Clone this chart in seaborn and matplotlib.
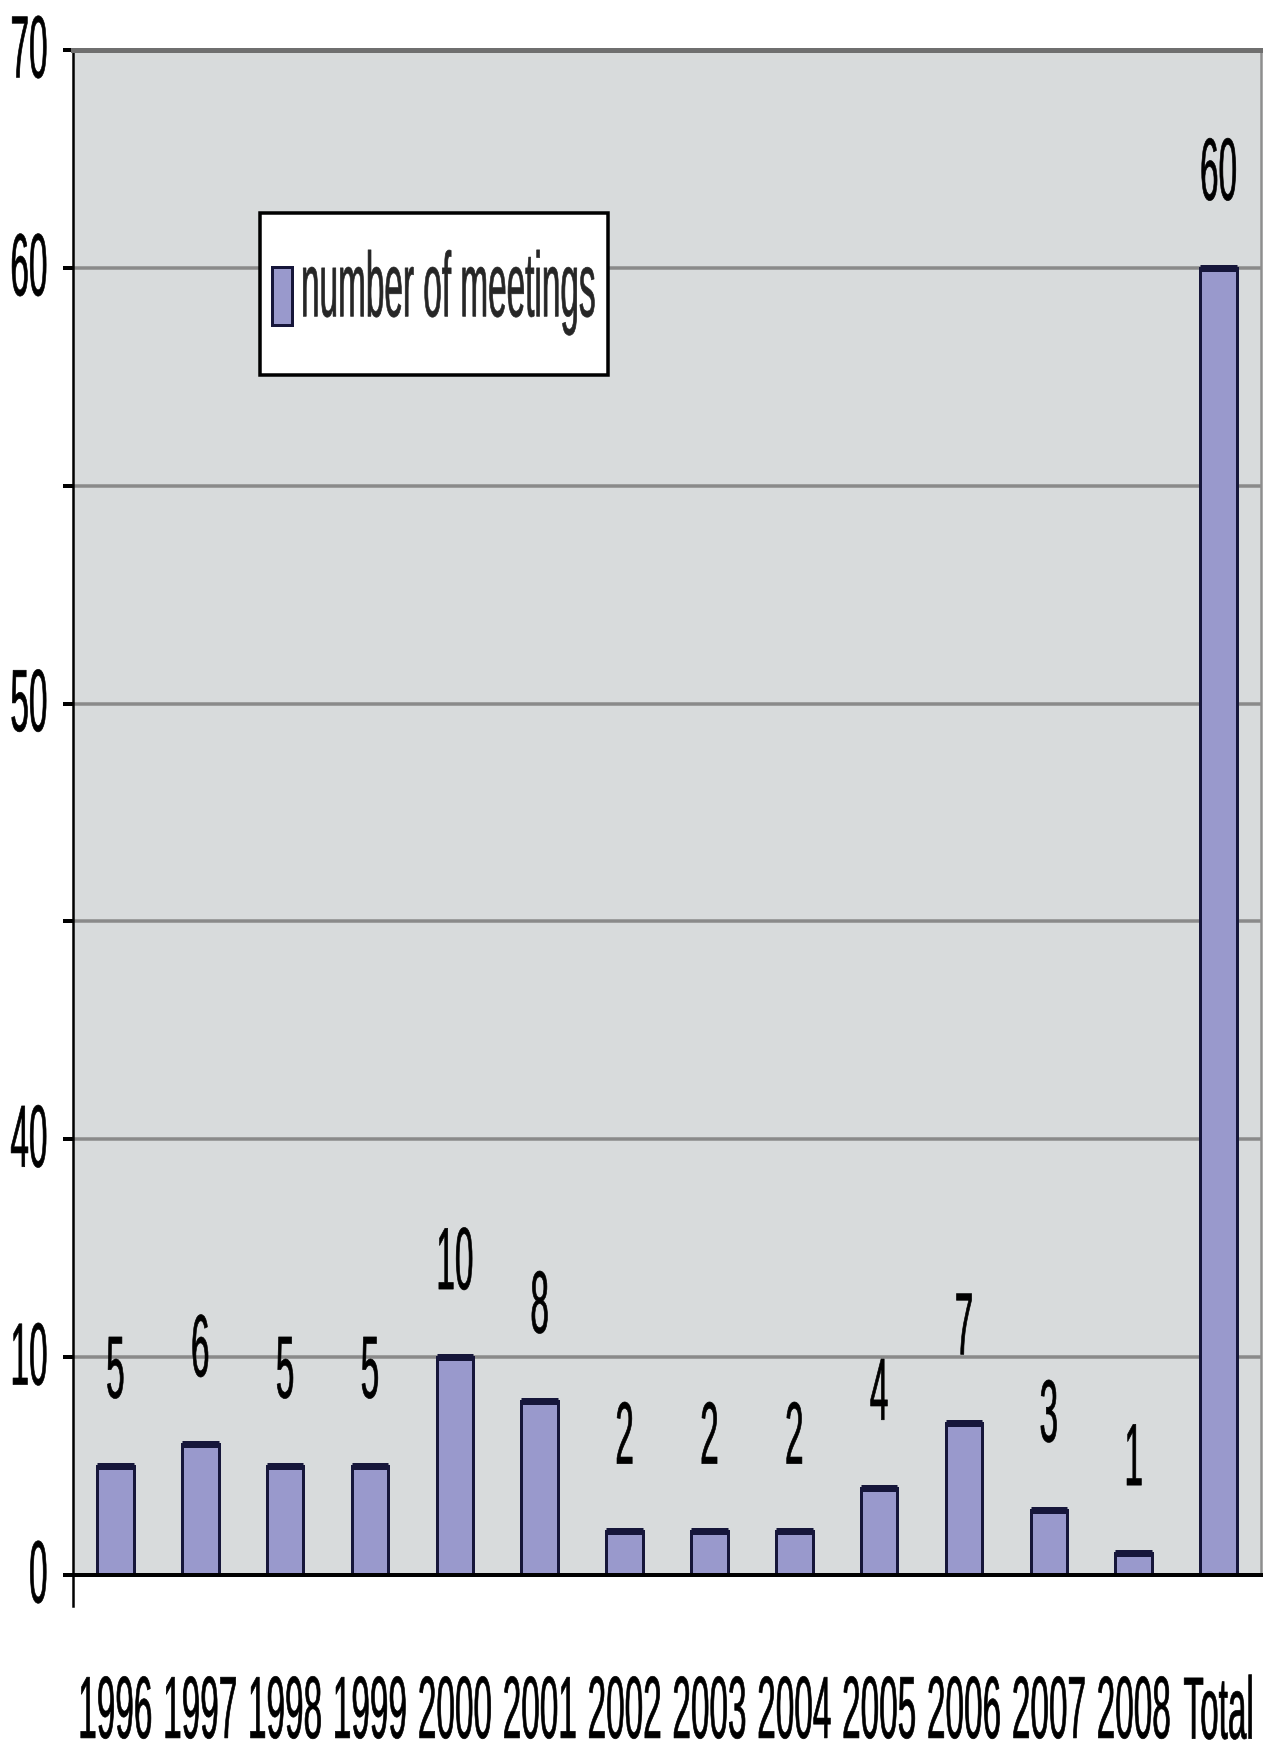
import numpy as np
import pandas as pd
import matplotlib
matplotlib.use("Agg")
import matplotlib.pyplot as plt
import matplotlib.patches as mpatches
from matplotlib.legend_handler import HandlerPatch
from matplotlib.patheffects import AbstractPathEffect
from matplotlib.transforms import Affine2D
import seaborn as sns

# ---- data -------------------------------------------------------------
years = ["1996", "1997", "1998", "1999", "2000", "2001", "2002",
         "2003", "2004", "2005", "2006", "2007", "2008", "Total"]
meetings = [5, 6, 5, 5, 10, 8, 2, 2, 2, 4, 7, 3, 1, 60]
y_ticks = [0, 10, 20, 30, 40, 50, 60, 70]
y_tick_labels = ["0", "10", "40", "", "50", "", "60", "70"]
series_name = "number of meetings"

# ---- style ------------------------------------------------------------
sns.set_style("ticks")
plt.rcParams["font.family"] = ["Liberation Sans", "DejaVu Sans"]

DPI = 100
W, H = 1263, 1741
FS = 24                      # font size in points
BAR = "#9999CC"
EDGE = "#16163a"
BG = "#D8DBDC"
GRID = "#8a8a8a"


def pt(px):
    """Pixels to points at the figure dpi."""
    return px * 72.0 / DPI


class TallGlyphs(AbstractPathEffect):
    """Draw text glyphs stretched about their own ink centre (tall, narrow lettering)."""

    def __init__(self, sx=1.0, sy=2.65, dy=0.0, stroke=0.45):
        super().__init__()
        self._sx, self._sy, self._dy, self._stroke = sx, sy, dy, stroke

    def draw_path(self, renderer, gc, tpath, affine, rgbFace=None):
        ext = tpath.get_extents()
        cx = 0.5 * (ext.x0 + ext.x1)
        cy = 0.5 * (ext.y0 + ext.y1)
        local = (Affine2D().translate(-cx, -cy)
                 .scale(self._sx, self._sy).translate(cx, cy))
        shift = Affine2D().translate(0, renderer.points_to_pixels(self._dy))
        gc0 = renderer.new_gc()
        gc0.copy_properties(gc)
        if rgbFace is not None:
            gc0.set_foreground(rgbFace)
        gc0.set_linewidth(self._stroke)
        renderer.draw_path(gc0, tpath, local + affine + shift, rgbFace)
        gc0.restore()


tall = TallGlyphs(sy=2.65)

fig = plt.figure(figsize=(W / DPI, H / DPI), dpi=DPI)
fig.patch.set_facecolor("white")
ax = fig.add_axes([73 / W, (H - 1575) / H, 1188 / W, 1525 / H])

df = pd.DataFrame({"year": years, "meetings": meetings})
sns.barplot(data=df, x="year", y="meetings", order=years, color=BAR,
            saturation=1, width=0.43, edgecolor=EDGE, linewidth=pt(3),
            errorbar=None, ax=ax, zorder=3)

# heavy black cap on each bar
xpos = np.arange(len(years))
ax.hlines(meetings, xpos - 0.215, xpos + 0.215, colors=EDGE,
          linewidth=pt(7), zorder=4)

# value labels above the bars
for x, v in zip(xpos, meetings):
    ax.annotate(str(v), xy=(x, v), xytext=(0, pt(95.5)),
                textcoords="offset points", ha="center", va="center",
                fontsize=FS, color="black", path_effects=[tall])

# ---- axes -------------------------------------------------------------
ax.set_xlim(-0.5, len(years) - 0.5)
ax.set_ylim(0, 70)
ax.set_yticks(y_ticks)
ax.set_yticklabels(y_tick_labels)
ax.set_xlabel("")
ax.set_ylabel("")
ax.set_facecolor(BG)
ax.grid(axis="y", color=GRID, linewidth=pt(3.5))
ax.grid(axis="x", visible=False)
ax.set_axisbelow(True)

ax.tick_params(axis="y", direction="out", length=pt(10), width=pt(4),
               pad=pt(15.5), labelsize=FS, colors="black")
ax.tick_params(axis="x", length=0, pad=pt(135.5), labelsize=FS,
               colors="black")
for lab in ax.get_xticklabels() + ax.get_yticklabels():
    lab.set_verticalalignment("center")
    lab.set_path_effects([tall])

ax.spines["left"].set_color("black")
ax.spines["left"].set_linewidth(pt(2.5))
ax.spines["left"].set_bounds(-1.4, 70)
ax.spines["bottom"].set_color("black")
ax.spines["bottom"].set_linewidth(pt(4))
ax.spines["top"].set_visible(True)
ax.spines["top"].set_color("#6f6f6f")
ax.spines["top"].set_linewidth(pt(5))
ax.spines["right"].set_visible(True)
ax.spines["right"].set_color("#8e8e8e")
ax.spines["right"].set_linewidth(pt(2.5))
for s in ax.spines.values():
    s.set_zorder(5)


# ---- legend -----------------------------------------------------------
def swatch(legend, orig_handle, xdescent, ydescent, width, height, fontsize):
    return mpatches.Rectangle((-xdescent, -0.72 * fontsize), width,
                              1.74 * fontsize)


leg = ax.legend([ax.patches[0]], [series_name], loc="upper left",
                bbox_to_anchor=((260 - 73) / 1188, (1575 - 213) / 1525),
                borderaxespad=0, borderpad=0.36, handlelength=0.6,
                handleheight=5.99, handletextpad=0.27, fontsize=FS,
                frameon=True, fancybox=False, edgecolor="black",
                facecolor="white", framealpha=1,
                handler_map={mpatches.Rectangle: HandlerPatch(patch_func=swatch)})
leg.get_frame().set_linewidth(pt(3.5))
for t in leg.get_texts():
    t.set_path_effects([TallGlyphs(sy=2.75, dy=0.0)])

fig.savefig("out.png", dpi=DPI)
